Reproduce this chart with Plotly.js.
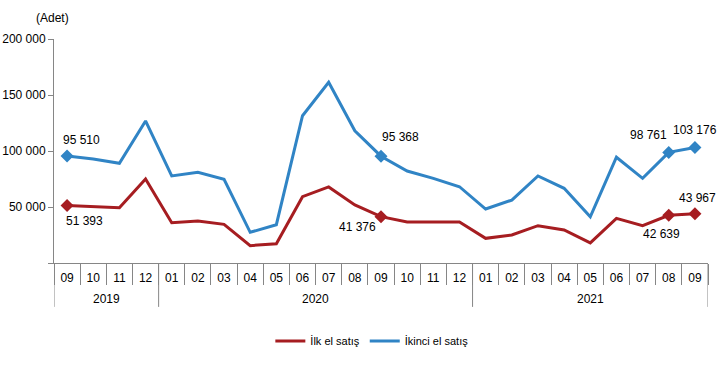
<!DOCTYPE html>
<html>
<head>
<meta charset="utf-8">
<script src="https://cdn.plot.ly/plotly-3.0.1.min.js"></script>
<style>html,body{margin:0;padding:0;background:#fff;}#chart{width:720px;height:374px;}</style>
</head>
<body>
<div id="chart"></div>
<script>
// ---- data ----
const years  = ['2019','2019','2019','2019',
                '2020','2020','2020','2020','2020','2020','2020','2020','2020','2020','2020','2020',
                '2021','2021','2021','2021','2021','2021','2021','2021','2021'];
const months = ['09','10','11','12',
                '01','02','03','04','05','06','07','08','09','10','11','12',
                '01','02','03','04','05','06','07','08','09'];
const ilkEl    = [51393, 50200, 49400, 75000,
                  36000, 37500, 34500, 15500, 17200, 59200, 67900, 51800, 41376, 36600, 36600, 36600,
                  22000, 25000, 33300, 29500, 17900, 39900, 33300, 42639, 43967];
const ikinciEl = [95510, 92800, 89000, 126800,
                  77700, 81000, 74700, 27400, 34200, 131500, 161300, 118100, 95368, 82100, 75600, 68100,
                  48200, 56200, 77700, 66700, 41300, 94400, 75600, 98761, 103176];
const labelIdx = [0, 12, 23, 24];
const seriesNames = ['İlk el satış', 'İkinci el satış'];
const yTickVals = [0, 50000, 100000, 150000, 200000];

// ---- style ----
const colors = ['#A61D21', '#3084C5'];
const gray = '#868686';
const FONT = 'Liberation Sans, Arial, sans-serif';
// label offsets (px) per labelled point, per series
const offsIlk    = [[17, 16], [-24, 10], [-7, 19], [3, -16]];
const offsIkinci = [[14, -16], [19, -19], [-20, -17], [0, -17]];

function fmt(v){ return v === 0 ? '' : String(v).replace(/\B(?=(\d{3})+(?!\d))/g, ' '); }

const keys = years.map((y, i) => y + '-' + months[i]);

const traces = [];
[ilkEl, ikinciEl].forEach((vals, s) => {
  traces.push({
    type: 'scatter', mode: 'lines',
    x: keys, y: vals, name: seriesNames[s],
    line: {color: colors[s], width: 3},
    hoverinfo: 'skip'
  });
});
[ilkEl, ikinciEl].forEach((vals, s) => {
  traces.push({
    type: 'scatter', mode: 'markers', showlegend: false,
    x: labelIdx.map(i => keys[i]), y: labelIdx.map(i => vals[i]),
    marker: {symbol: 'diamond', size: 10, color: colors[s]},
    hoverinfo: 'skip'
  });
});

const annotations = [];
[[ilkEl, offsIlk], [ikinciEl, offsIkinci]].forEach(([vals, offs]) => {
  labelIdx.forEach((idx, k) => {
    annotations.push({
      x: keys[idx], y: vals[idx], xref: 'x', yref: 'y',
      text: fmt(vals[idx]), showarrow: false,
      xshift: offs[k][0], yshift: -offs[k][1],
      font: {family: FONT, size: 12, color: '#000'}
    });
  });
});
annotations.push({
  text: '(Adet)', xref: 'paper', yref: 'paper', x: -0.003, y: 1.094,
  xanchor: 'center', yanchor: 'middle', showarrow: false,
  font: {family: FONT, size: 12, color: '#000'}
});

// year groups -> labels and divider shapes
const shapes = [];
const groups = [];
years.forEach((y, i) => {
  if (!groups.length || groups[groups.length-1].year !== y) groups.push({year: y, start: i, end: i});
  else groups[groups.length-1].end = i;
});
groups.forEach((g, gi) => {
  annotations.push({
    text: g.year, xref: 'x', yref: 'paper', x: (g.start + g.end) / 2, y: -0.161,
    xanchor: 'center', yanchor: 'middle', showarrow: false,
    font: {family: FONT, size: 12, color: '#000'}
  });
  const bounds = gi === groups.length - 1 ? [g.start - 0.5, g.end + 0.5] : [g.start - 0.5];
  bounds.forEach(b => shapes.push({
    type: 'line', xref: 'x', yref: 'paper', x0: b, x1: b, y0: 0, y1: -0.196,
    line: {color: gray, width: 1}
  }));
});

const layout = {
  width: 720, height: 374,
  margin: {l: 54, r: 12, t: 39, b: 111},
  paper_bgcolor: '#fff', plot_bgcolor: '#fff',
  font: {family: FONT, size: 12, color: '#000'},
  showlegend: true,
  legend: {orientation: 'h', x: 0.486, xanchor: 'center', y: -0.348, yanchor: 'middle',
           font: {size: 11}},
  xaxis: {
    type: 'category', range: [-0.5, keys.length - 0.5],
    showline: true, linecolor: gray, linewidth: 1,
    showgrid: false, zeroline: false,
    tickvals: keys, ticktext: months,
    ticks: 'outside', tickson: 'boundaries', ticklen: 21, tickcolor: gray,
    ticklabelstandoff: 4,
    tickfont: {size: 12, color: '#000'}
  },
  yaxis: {
    range: [0, 200000], showline: true, linecolor: gray, linewidth: 1,
    showgrid: false, zeroline: false,
    tickvals: yTickVals, ticktext: yTickVals.map(fmt),
    ticks: 'outside', ticklen: 5, tickcolor: gray,
    tickfont: {size: 12, color: '#000'}
  },
  shapes: shapes,
  annotations: annotations
};

Plotly.newPlot('chart', traces, layout, {displayModeBar: false, staticPlot: true});
</script>
</body>
</html>
